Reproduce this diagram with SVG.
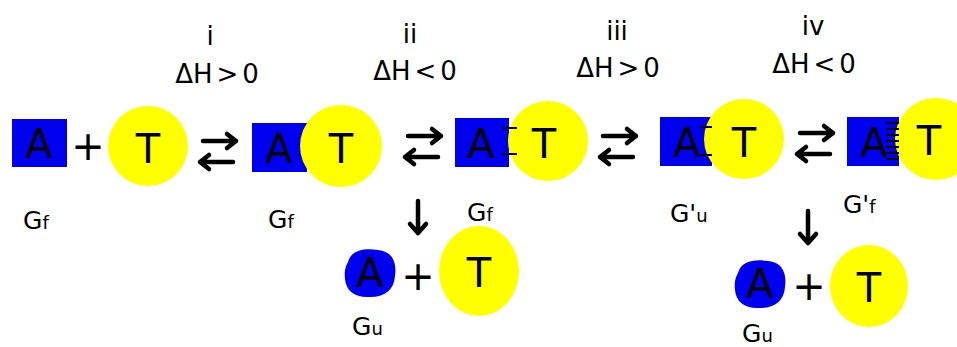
<svg xmlns="http://www.w3.org/2000/svg" xmlns:xlink="http://www.w3.org/1999/xlink" width="957" height="347" viewBox="0 0 957 347">
<style>
text{font-family:"DejaVu Sans","Liberation Sans",sans-serif;fill:#000}
.sq{fill:#0000f0}
.ball{fill:#ffff00}
.big{font-size:40px;text-anchor:middle}
.hd{font-size:26px;text-anchor:middle}
.g{font-size:25px}
.sub{font-size:18px}
.arr{fill:none;stroke:#000;stroke-width:4.5;stroke-linecap:round;stroke-linejoin:round}
.bond{stroke:#000;stroke-width:2}
</style>
<defs>
<g id="eq" class="arr"><path d="M3,0 H36 M27,-7 L36,0 L27,7"/><path d="M0,21 H33 M9,14 L0,21 L9,28"/></g>
<g id="down" class="arr"><path d="M0,0 V31 M-8,23 L0,32 L8,23"/></g>
</defs>
<rect width="957" height="347" fill="#fff"/>
<g id="labels">
<text class="hd" x="210" y="45">i</text>
<text class="hd" x="217" y="83">ΔH<tspan dx="4">&gt;</tspan><tspan dx="4">0</tspan></text>
<text class="hd" x="410" y="43">ii</text>
<text class="hd" x="415" y="80">ΔH<tspan dx="4">&lt;</tspan><tspan dx="4">0</tspan></text>
<text class="hd" x="617" y="40">iii</text>
<text class="hd" x="618" y="77">ΔH<tspan dx="4">&gt;</tspan><tspan dx="4">0</tspan></text>
<text class="hd" x="813" y="35">iv</text>
<text class="hd" x="814" y="73">ΔH<tspan dx="4">&lt;</tspan><tspan dx="4">0</tspan></text>
</g>
<g id="n1">
<rect class="sq" x="12" y="119" width="55" height="48"/>
<text class="big" x="39" y="158">A</text>
</g>
<g id="plus1"><text class="big" x="88" y="160">+</text></g>
<g id="n2">
<circle class="ball" cx="148" cy="146" r="40"/>
<text class="big" x="148" y="163">T</text>
</g>
<g id="n3">
<rect class="sq" x="252" y="123" width="55" height="49"/>
<circle class="ball" cx="341" cy="146" r="41"/>
<text class="big" x="279" y="163">A</text>
<text class="big" x="341" y="163">T</text>
</g>
<g id="n4">
<rect class="sq" x="455" y="118" width="54" height="49"/>
<circle class="ball" cx="548" cy="141" r="40"/>
<line class="bond" x1="502" y1="128" x2="517" y2="128"/>
<line class="bond" x1="502" y1="154" x2="517" y2="154"/>
<text class="big" x="481" y="158">A</text>
<text class="big" x="544" y="158">T</text>
</g>
<g id="n5">
<rect class="sq" x="660" y="117" width="52" height="49"/>
<circle class="ball" cx="744" cy="139" r="40"/>
<line class="bond" x1="700" y1="127" x2="712" y2="127"/>
<line class="bond" x1="700" y1="155" x2="712" y2="155"/>
<text class="big" x="687" y="157">A</text>
<text class="big" x="744" y="157">T</text>
</g>
<g id="n6">
<rect class="sq" x="847" y="117" width="52" height="49"/>
<circle class="ball" cx="936" cy="139" r="41"/>
<g class="bond">
<line x1="886" y1="123" x2="899" y2="123"/>
<line x1="886" y1="129" x2="899" y2="129"/>
<line x1="886" y1="135" x2="899" y2="135"/>
<line x1="886" y1="141" x2="899" y2="141"/>
<line x1="886" y1="147" x2="899" y2="147"/>
<line x1="886" y1="153" x2="899" y2="153"/>
<line x1="886" y1="159" x2="899" y2="159"/>
</g>
<text class="big" x="874" y="157">A</text>
<text class="big" x="929" y="155">T</text>
</g>
<g id="n7">
<path class="sq" d="M348,262 C351,250 365,248 378,250 C392,251 397,262 395,276 C394,290 385,297 370,297 C355,298 346,291 345,279 C344,270 346,266 348,262 Z"/>
<text class="big" x="370" y="287">A</text>
</g>
<g id="plus2"><text class="big" x="418" y="290">+</text></g>
<g id="n8">
<ellipse class="ball" cx="479" cy="271" rx="40" ry="45"/>
<text class="big" x="479" y="287">T</text>
</g>
<g id="n9">
<path class="sq" d="M738,273 C741,261 755,259 768,261 C782,262 787,273 785,287 C784,301 775,308 760,308 C745,309 736,302 735,290 C734,281 736,277 738,273 Z"/>
<text class="big" x="760" y="298">A</text>
</g>
<g id="plus3"><text class="big" x="809" y="300">+</text></g>
<g id="n10">
<ellipse class="ball" cx="869" cy="286" rx="39" ry="41"/>
<text class="big" x="869" y="302">T</text>
</g>
<g id="glabels">
<text class="g" x="23" y="229">G<tspan class="sub">f</tspan></text>
<text class="g" x="268" y="228">G<tspan class="sub">f</tspan></text>
<text class="g" x="467" y="221">G<tspan class="sub">f</tspan></text>
<text class="g" x="670" y="222">G'<tspan class="sub">u</tspan></text>
<text class="g" x="843" y="213">G'<tspan class="sub">f</tspan></text>
<text class="g" x="352" y="335">G<tspan class="sub">u</tspan></text>
<text class="g" x="742" y="342">G<tspan class="sub">u</tspan></text>
</g>
<g id="connectors">
<use xlink:href="#eq" x="200" y="141"/>
<use xlink:href="#eq" x="405" y="136"/>
<use xlink:href="#eq" x="600" y="136"/>
<use xlink:href="#eq" x="797" y="133"/>
<use xlink:href="#down" x="418" y="201"/>
<use xlink:href="#down" x="808" y="211"/>
</g>
</svg>
